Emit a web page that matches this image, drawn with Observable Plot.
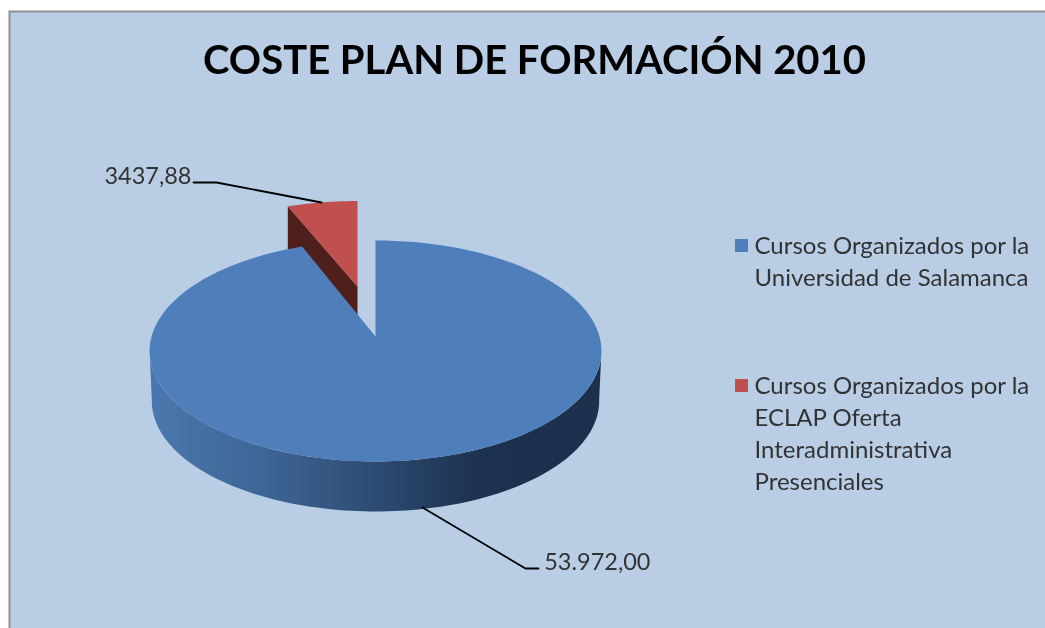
<!DOCTYPE html>
<html><head><meta charset="utf-8">
<script src="https://cdn.jsdelivr.net/npm/d3@7"></script>
<script src="https://cdn.jsdelivr.net/npm/@observablehq/plot@0.6"></script>
<style>html,body{margin:0;padding:0;background:#fff;overflow:hidden}svg{display:block;filter:blur(0.55px)}</style>
</head><body><div id="chart"></div>
<script>
const categories = ["Cursos Organizados por la Universidad de Salamanca", "Cursos Organizados por la ECLAP Oferta Interadministrativa Presenciales"];
const values = [53972.00, 3437.88];
const valueLabels = ["53.972,00", "3437,88"];
const legendLines = [["Cursos Organizados por la", "Universidad de Salamanca"], ["Cursos Organizados por la", "ECLAP Oferta", "Interadministrativa", "Presenciales"]];
const colors = ["#4e7fbb", "#c0504d"];
const titleText = "COSTE PLAN DE FORMACIÓN 2010";

const W = 1045, H = 628;
const total = d3.sum(values);
const bigSweep = 360 * values[0] / total;

// Perspective projection of a unit-circle pie onto the page.
const k = 0.131, A = 224, B = 108.6;
function project(deg, o) {
  const t = deg * Math.PI / 180, d = 1 + k * Math.cos(t);
  return {x: o.x + o.sx * A * Math.sin(t) / d, y: o.y - o.sy * B * Math.cos(t) / d};
}
const arc = (a, b, o) => d3.range(0, 121).map(i => project(a + (b - a) * i / 120, o));

const big = {x: 375, y: 336, sx: 1, sy: 1};
const bigBottom = {x: 375, y: 386, sx: 0.99, sy: 1};
const red = {x: 357, y: 286, sx: 0.95, sy: 0.89};
const redBottom = {x: 357, y: 336, sx: 0.95, sy: 0.89};

const bigTop = [{x: big.x, y: big.y}, ...arc(0, bigSweep, big)];
const bigWall = [...arc(97, 263, big), ...arc(263, 97, bigBottom)];
const redTop = [{x: red.x, y: red.y}, ...arc(bigSweep, 360, red)];
const redWall = [{x: red.x, y: red.y}, project(bigSweep, red), project(bigSweep, redBottom), {x: redBottom.x, y: redBottom.y}];

const leaders = [
  [{x: 422, y: 507}, {x: 525, y: 568}, {x: 538, y: 568}],
  [{x: 321, y: 202}, {x: 216, y: 182}, {x: 193, y: 182}]
];
const legendRows = [];
const legendTop = [246, 386];
legendLines.forEach((lines, c) => lines.forEach((t, i) => legendRows.push({t, x: 754, y: legendTop[c] + i * 31.8})));
const legendKeys = legendTop.map((y, c) => ({x1: 735, x2: 748, y1: y - 7, y2: y + 6, c}));
const valueTexts = [{t: valueLabels[0], x: 650, y: 562}, {t: valueLabels[1], x: 191, y: 176}];

const chart = Plot.plot({
  width: W, height: H, margin: 0,
  style: {background: "#fff", fontFamily: "Lato, sans-serif"},
  x: {domain: [0, W], range: [0, W], axis: null},
  y: {domain: [0, H], range: [0, H], axis: null},
  marks: [
    () => {
      const defs = d3.create("svg:defs");
      const g = defs.append("linearGradient").attr("id", "wall");
      [[0, "#4a78ae"], [0.25, "#3e6596"], [0.5, "#2d4b72"], [0.72, "#1d3250"], [1, "#1c2f4b"]]
        .forEach(([o, c]) => g.append("stop").attr("offset", o).attr("stop-color", c));
      return defs.node();
    },
    Plot.rect([{}], {x1: () => 9.5, x2: () => W + 5, y1: () => 11.5, y2: () => H + 5, fill: "#b9cde5", stroke: "#8f8f8f", strokeWidth: 2}),
    Plot.line(redWall, {x: "x", y: "y", fill: "#4f1f1c", stroke: "none"}),
    Plot.line(redTop, {x: "x", y: "y", fill: colors[1], stroke: "none"}),
    Plot.line(bigWall, {x: "x", y: "y", fill: "url(#wall)", stroke: "none"}),
    Plot.line(bigTop, {x: "x", y: "y", fill: colors[0], stroke: "none"}),
    ...leaders.map(l => Plot.line(l, {x: "x", y: "y", stroke: "#000", strokeWidth: 1.8, curve: "linear"})),
    Plot.text([titleText], {x: () => 534, y: () => 61, text: d => d, fontSize: 40, fontWeight: 700, fill: "#000", textAnchor: "middle"}),
    Plot.text(valueTexts, {x: "x", y: "y", text: "t", fontSize: 23.5, fill: "#333", textAnchor: "end"}),
    Plot.rect(legendKeys, {x1: "x1", x2: "x2", y1: "y1", y2: "y2", fill: d => colors[d.c]}),
    Plot.text(legendRows, {x: "x", y: "y", text: "t", fontSize: 24, fill: "#333", textAnchor: "start"})
  ]
});
document.getElementById("chart").append(chart);
</script></body></html>
